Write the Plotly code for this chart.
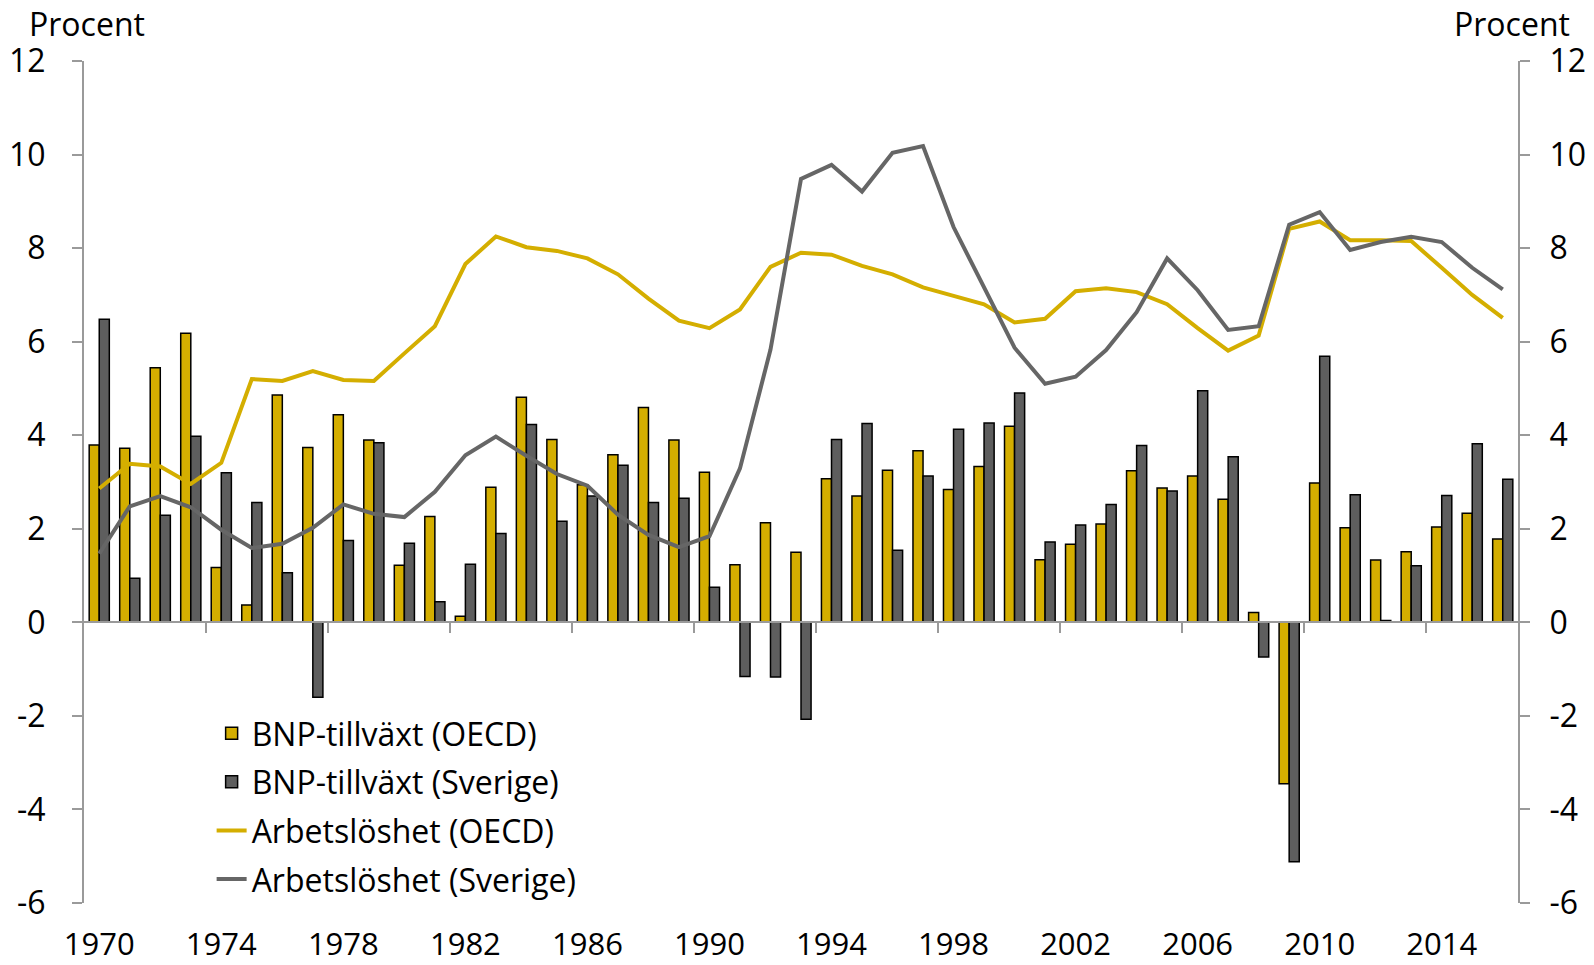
import plotly.graph_objects as go

years = list(range(1970, 2017))

bnp_oecd = [3.79, 3.72, 5.44, 6.18, 1.17, 0.37, 4.86, 3.74, 4.44, 3.90,
            1.22, 2.26, 0.13, 2.89, 4.81, 3.91, 2.94, 3.58, 4.59, 3.90,
            3.21, 1.23, 2.13, 1.50, 3.07, 2.70, 3.25, 3.67, 2.84, 3.33,
            4.19, 1.34, 1.67, 2.10, 3.24, 2.87, 3.13, 2.63, 0.21, -3.45,
            2.98, 2.02, 1.33, 1.51, 2.04, 2.33, 1.78]

bnp_sverige = [6.48, 0.94, 2.29, 3.98, 3.20, 2.56, 1.06, -1.60, 1.75, 3.84,
               1.69, 0.44, 1.24, 1.90, 4.23, 2.16, 2.70, 3.36, 2.56, 2.65,
               0.75, -1.16, -1.17, -2.07, 3.91, 4.25, 1.54, 3.13, 4.13, 4.26,
               4.90, 1.72, 2.08, 2.52, 3.78, 2.81, 4.95, 3.54, -0.74, -5.12,
               5.69, 2.73, 0.04, 1.21, 2.71, 3.82, 3.06]

arb_oecd = [2.86, 3.39, 3.33, 2.96, 3.41, 5.20, 5.16, 5.37, 5.18, 5.16,
            5.75, 6.33, 7.66, 8.25, 8.02, 7.94, 7.78, 7.44, 6.92, 6.45,
            6.29, 6.69, 7.60, 7.90, 7.86, 7.62, 7.44, 7.16, 6.98, 6.80,
            6.41, 6.49, 7.08, 7.14, 7.06, 6.80, 6.29, 5.81, 6.13, 8.41,
            8.57, 8.17, 8.17, 8.15, 7.58, 7.00, 6.51]

arb_sverige = [1.47, 2.48, 2.70, 2.46, 1.98, 1.59, 1.68, 2.02, 2.52, 2.32,
               2.25, 2.79, 3.57, 3.97, 3.56, 3.17, 2.92, 2.30, 1.87, 1.61,
               1.84, 3.29, 5.83, 9.48, 9.78, 9.21, 10.04, 10.18, 8.45, 7.18,
               5.87, 5.10, 5.25, 5.82, 6.63, 7.78, 7.10, 6.25, 6.33, 8.50,
               8.77, 7.96, 8.13, 8.24, 8.13, 7.58, 7.12]

label_years = list(range(1970, 2015, 4))
boundary_ticks = [y + 3.5 for y in label_years]
y_ticks = list(range(-6, 13, 2))
y_ticktext = [str(v) for v in y_ticks]

GOLD = "#D4AE00"
DARK = "#5E5E5E"
LINE_GRAY = "#666666"
AXIS_GRAY = "#9A9A9A"
FONT = "Open Sans"
FS = 32

fig = go.Figure()
fig.add_trace(go.Bar(x=years, y=bnp_oecd, name="BNP-tillväxt (OECD)",
                     marker=dict(color=GOLD, line=dict(color="black", width=1.5)),
                     legendgroup="a"))
fig.add_trace(go.Bar(x=years, y=bnp_sverige, name="BNP-tillväxt (Sverige)",
                     marker=dict(color=DARK, line=dict(color="black", width=1.5)),
                     legendgroup="b"))
fig.add_trace(go.Scatter(x=years, y=arb_oecd, name="Arbetslöshet (OECD)", mode="lines",
                         line=dict(color=GOLD, width=4), xaxis="x2", yaxis="y2",
                         legendgroup="c"))
fig.add_trace(go.Scatter(x=years, y=arb_sverige, name="Arbetslöshet (Sverige)", mode="lines",
                         line=dict(color=LINE_GRAY, width=4), xaxis="x2", yaxis="y2",
                         legendgroup="d"))

xr = [1969.5, 2016.5]
yr = [-6, 12]

fig.update_layout(
    width=1594, height=965,
    margin=dict(l=84, r=76, t=61, b=62, autoexpand=False),
    paper_bgcolor="white", plot_bgcolor="white",
    font=dict(family=FONT, size=FS, color="black"),
    barmode="group", bargap=0.34, bargroupgap=0,
    showlegend=True,
    legend=dict(x=0.089, y=0.234, xanchor="left", yanchor="top",
                bgcolor="rgba(0,0,0,0)", font=dict(size=FS, family=FONT),
                tracegroupgap=4, traceorder="grouped"),
    xaxis=dict(range=xr, tickmode="array", tickvals=label_years,
               ticktext=[str(y) for y in label_years], automargin=False,
               showline=False, ticks="", showgrid=False, zeroline=False,
               tickfont=dict(size=31, family=FONT),
               ticklabelstandoff=20),
    xaxis2=dict(range=xr, overlaying="x", anchor="free", position=1/3,
                tickmode="array", tickvals=boundary_ticks, showticklabels=False,
                ticks="outside", ticklen=10, tickwidth=2, tickcolor=AXIS_GRAY,
                showline=True, linecolor=AXIS_GRAY, linewidth=2, automargin=False,
                showgrid=False, zeroline=False),
    yaxis=dict(range=yr, tickmode="array", tickvals=y_ticks, ticktext=y_ticktext,
               showline=True, linecolor=AXIS_GRAY, linewidth=2, automargin=False,
               ticks="outside", ticklen=10, tickwidth=2, tickcolor=AXIS_GRAY,
               showgrid=False, zeroline=False, ticklabelstandoff=20),
    yaxis2=dict(range=yr, tickmode="array", tickvals=y_ticks, ticktext=y_ticktext,
                overlaying="y", side="right", anchor="x", automargin=False,
                showline=True, linecolor=AXIS_GRAY, linewidth=2,
                ticks="outside", ticklen=10, tickwidth=2, tickcolor=AXIS_GRAY,
                showgrid=False, zeroline=False, ticklabelstandoff=13),
    annotations=[
        dict(text="Procent", xref="paper", yref="paper", x=-0.04, y=1.045,
             xanchor="left", yanchor="middle", showarrow=False,
             font=dict(size=FS, family=FONT)),
        dict(text="Procent", xref="paper", yref="paper", x=1.0377, y=1.045,
             xanchor="right", yanchor="middle", showarrow=False,
             font=dict(size=FS, family=FONT)),
    ],
)

fig.write_html(
    "out.html",
    config={"displayModeBar": False},
    post_script="document.body.style.margin='0';document.body.style.overflow='hidden';",
)
